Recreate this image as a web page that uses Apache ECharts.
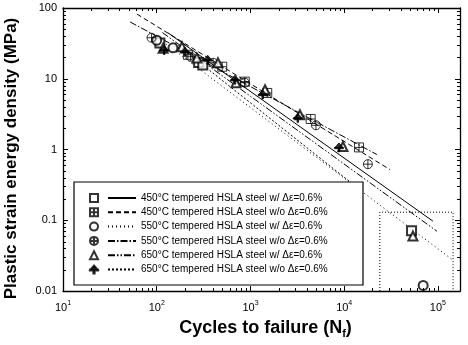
<!DOCTYPE html>
<html><head><meta charset="utf-8">
<script src="https://cdn.jsdelivr.net/npm/echarts@6/dist/echarts.min.js"></script>
<style>html,body{margin:0;padding:0;background:#fff}#c{width:468px;height:345px}</style>
</head><body><div id="c"></div>
<script>
// ---- data ----
const seriesNames = [
  '450°C tempered HSLA steel w/ Δε=0.6%',
  '450°C tempered HSLA steel w/o Δε=0.6%',
  '550°C tempered HSLA steel w/ Δε=0.6%',
  '550°C tempered HSLA steel w/o Δε=0.6%',
  '650°C tempered HSLA steel w/ Δε=0.6%',
  '650°C tempered HSLA steel w/o Δε=0.6%'
];
// measured points: cycles to failure (Nf) and plastic strain energy density (MPa)
const nf450w  = [108, 280, 310, 52300];
const w450w   = [32, 17, 15.7, 0.071];
const nf450wo = [215, 500, 870, 1510, 4390, 14400];
const w450wo  = [21.8, 14.8, 9.1, 6.3, 2.7, 1.07];
const nf550w  = [100, 149, 69600];
const w550w   = [35, 27.4, 0.012];
const nf550wo = [88, 230, 400, 870, 5000, 17900];
const w550wo  = [38, 20.5, 16.8, 8.8, 2.2, 0.62];
const nf650w  = [117, 186, 268, 450, 700, 1430, 3370, 9700, 54100];
const w650w   = [27, 28.3, 19.7, 16.8, 8.8, 7.0, 3.1, 1.1, 0.060];
const nf650wo = [120, 200, 350, 684, 1350, 3200, 8790];
const w650wo  = [25.5, 24, 18.5, 9.7, 6.0, 2.8, 1.07];
// fitted lines (start / end)
const fit450wN  = [132, 88500];   const fit450wW  = [44.5, 0.097];
const fit450woN = [61.5, 30800];  const fit450woW = [82, 0.52];
const fit550wN  = [100, 141000];  const fit550wW  = [39, 0.028];
const fit550woN = [52, 22300];    const fit550woW = [63.5, 0.85];
const fit650wN  = [115, 97500];   const fit650wW  = [45, 0.070];
const fit650woN = [157, 14700];   const fit650woW = [32, 0.27];
// dotted highlight box
const boxN = [24000, 145000];
const boxW = [0.01, 0.13];
// axis ranges and log decades
const xMin = 10, xMax = 172000;
const yMin = 0.01, yMax = 100;
const xDecades = [10, 100, 1000, 10000];
const yDecades = [0.01, 0.1, 1, 10];
const minorSteps = [2, 3, 4, 5, 6, 7, 8, 9];

const FONT = 'Liberation Sans, Arial, sans-serif';
const pairs = (a, b) => a.map((v, i) => [v, b[i]]);
const sqPlus = 'path://M0,0 L10,0 L10,10 L0,10 Z M5,0 L5,10 M0,5 L10,5';
const ciPlus = 'path://M10,5 A5,5 0 1,1 0,5 A5,5 0 1,1 10,5 Z M5,0 L5,10 M0,5 L10,5';
const club = 'path://M5,0 L9.5,5.2 L0.5,5.2 Z M0,5 L10,5 L10,6.4 L0,6.4 Z M4.2,5 L5.8,5 L5.8,10 L4.2,10 Z';

const markerDefs = [
  {n: nf450w,  w: w450w,  sym: 'emptyRect', fill: '#fff'},
  {n: nf450wo, w: w450wo, sym: sqPlus, fill: 'rgba(0,0,0,0)'},
  {n: nf550w,  w: w550w,  sym: 'emptyCircle', fill: '#fff'},
  {n: nf550wo, w: w550wo, sym: ciPlus, fill: 'rgba(0,0,0,0)'},
  {n: nf650w,  w: w650w,  sym: 'emptyTriangle', fill: '#fff'},
  {n: nf650wo, w: w650wo, sym: club, fill: '#000'}
];
const lineDefs = [
  {n: fit450wN,  w: fit450wW,  type: 'solid'},
  {n: fit450woN, w: fit450woW, type: [5, 3]},
  {n: fit550wN,  w: fit550wW,  type: [1, 3]},
  {n: fit550woN, w: fit550woW, type: [7, 2, 1.5, 2]},
  {n: fit650wN,  w: fit650wW,  type: [7, 2, 1.5, 2, 1.5, 2]},
  {n: fit650woN, w: fit650woW, type: [2, 2]}
];
const markerNames = seriesNames.map((s, i) => 'marker' + (i + 1));

const series = [];
lineDefs.forEach((d, i) => series.push({
  name: seriesNames[i], type: 'line', data: pairs(d.n, d.w), symbol: 'none',
  lineStyle: {color: '#000', width: 1, type: d.type},
  itemStyle: {color: 'rgba(0,0,0,0)', borderWidth: 0},
  silent: true, z: 2
}));
markerDefs.forEach((d, i) => series.push({
  name: markerNames[i], type: 'scatter', data: pairs(d.n, d.w), symbol: d.sym, symbolSize: 9,
  itemStyle: {color: d.sym.indexOf('empty') === 0 ? '#000' : d.fill, borderColor: '#000', borderWidth: 1},
  silent: true, z: 3
}));
series.push({
  name: 'box', type: 'line', symbol: 'none', silent: true, z: 2,
  data: [[boxN[0], boxW[0]], [boxN[0], boxW[1]], [boxN[1], boxW[1]], [boxN[1], boxW[0]]],
  lineStyle: {color: '#000', width: 1, type: [1, 2]}
});
// minor log ticks on all four sides, placed through the axes' scales
const minorData = [];
xDecades.forEach(d => minorSteps.forEach(k => minorData.push([d * k, yMin, 0])));
yDecades.forEach(d => minorSteps.forEach(k => minorData.push([xMin, d * k, 1])));
series.push({
  name: 'minorTicks', type: 'custom', silent: true, z: 4, clip: false,
  encode: {x: 0, y: 1},
  data: minorData,
  renderItem: (params, api) => {
    const cs = params.coordSys;
    const p = api.coord([api.value(0), api.value(1)]);
    const L = 3, st = {stroke: '#000', lineWidth: 1};
    if (api.value(2) === 0) {
      const x = Math.round(p[0]) + 0.5;
      return {type: 'group', children: [
        {type: 'line', shape: {x1: x, y1: cs.y + cs.height, x2: x, y2: cs.y + cs.height - L}, style: st},
        {type: 'line', shape: {x1: x, y1: cs.y, x2: x, y2: cs.y + L}, style: st}]};
    }
    const y = Math.round(p[1]) + 0.5;
    return {type: 'group', children: [
      {type: 'line', shape: {x1: cs.x, y1: y, x2: cs.x + L, y2: y}, style: st},
      {type: 'line', shape: {x1: cs.x + cs.width, y1: y, x2: cs.x + cs.width - L, y2: y}, style: st}]};
  }
});

const exp = v => Math.log10(v);
const isPow = v => Math.abs(exp(v) - Math.round(exp(v))) < 1e-6;
const xFmt = v => isPow(v) ? '{b|10}{s|' + Math.round(exp(v)) + '}' : '';
const yFmt = v => {
  if (!isPow(v)) return '';
  const e = Math.round(exp(v));
  return e >= 0 ? String(Math.pow(10, e)) : Math.pow(10, e).toFixed(-e);
};
const axLine = {show: true, onZero: false, lineStyle: {color: '#000', width: 1.3}};
const tick = {show: true, inside: true, length: 5, lineStyle: {color: '#000', width: 1}};

const option = {
  animation: false,
  backgroundColor: '#fff',
  grid: {left: 63, right: 8, top: 8, bottom: 54, containLabel: false, outerBoundsMode: 'none'},
  xAxis: [
    {type: 'log', logBase: 10, min: xMin, max: xMax, position: 'bottom',
     axisLine: axLine, axisTick: tick, splitLine: {show: false},
     axisLabel: {formatter: xFmt, margin: 9, color: '#000',
       rich: {b: {fontSize: 11, fontFamily: FONT, color: '#000'},
              s: {fontSize: 7, fontFamily: FONT, color: '#000', padding: [0, 0, 8, 0]}}},
     name: '{t|Cycles to failure (N}{s|f}{t|)}', nameLocation: 'middle', nameGap: 27,
     nameTextStyle: {padding: [0, 0, 0, 8], rich: {
       t: {fontSize: 18, fontWeight: 'bold', fontFamily: FONT, color: '#000'},
       s: {fontSize: 11, fontWeight: 'bold', fontFamily: FONT, color: '#000', padding: [10, 0, 0, 0]}}}},
    {type: 'log', logBase: 10, min: xMin, max: xMax, position: 'top',
     axisLine: axLine, axisTick: tick, splitLine: {show: false},
     axisLabel: {show: false}}
  ],
  yAxis: [
    {type: 'log', logBase: 10, min: yMin, max: yMax, position: 'left',
     axisLine: axLine, axisTick: tick, splitLine: {show: false},
     axisLabel: {formatter: yFmt, margin: 6, fontSize: 11, fontFamily: FONT, color: '#000'},
     name: 'Plastic strain energy density (MPa)', nameLocation: 'middle', nameGap: 43, nameRotate: 90,
     nameTextStyle: {fontSize: 17, fontWeight: 'bold', fontFamily: FONT, color: '#000', padding: [0, 18, 0, 0]}},
    {type: 'log', logBase: 10, min: yMin, max: yMax, position: 'right',
     axisLine: axLine, axisTick: tick, splitLine: {show: false},
     axisLabel: {show: false}}
  ],
  graphic: [{type: 'rect', z: 3, shape: {x: 74, y: 182, width: 289, height: 103},
    style: {fill: '#fff', stroke: '#000', lineWidth: 1.2}}],
  legend: [
    {data: markerNames, orient: 'vertical', left: 84, top: 188, itemWidth: 8, itemHeight: 8, itemGap: 4.3,
     formatter: () => ' ', selectedMode: false, z: 5,
     textStyle: {fontSize: 10, fontFamily: FONT, color: '#000'}},
    {data: seriesNames, orient: 'vertical', left: 102, top: 188, itemWidth: 28, itemHeight: 8, itemGap: 4.3,
     selectedMode: false, z: 5,
     textStyle: {fontSize: 10, fontFamily: FONT, color: '#000'}}
  ],
  series: series
};
const chart = echarts.init(document.getElementById('c'), null, {renderer: 'canvas'});
chart.setOption(option);
</script>
</body></html>
